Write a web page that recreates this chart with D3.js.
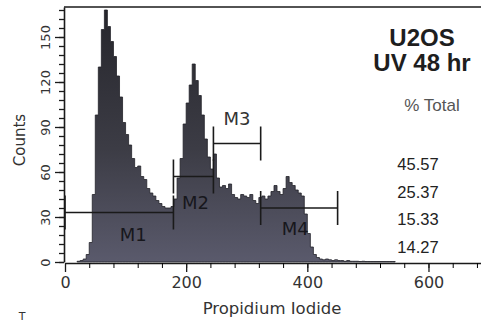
<!DOCTYPE html>
<html>
<head>
<meta charset="utf-8">
<script src="https://cdn.jsdelivr.net/npm/d3@7"></script>
<style>
  body { margin: 0; background: #fff; }
  svg { display: block; }
</style>
</head>
<body>
<script>
// DNA histogram (Propidium Iodide), counts per 5-channel bin starting at channel 20
const firstChannel = 20;
const binWidth = 5;
const counts = [
  0.5, 1, 2, 5, 13, 45, 98, 130, 155, 168,
  157, 147, 137, 124, 110, 93, 85, 78, 69, 63,
  64, 57, 55, 49, 46, 44, 41, 39, 37, 36,
  36, 37, 42, 56, 69, 92, 106, 118, 132, 121,
  111, 98, 82, 70, 62, 72, 56, 50, 51, 49,
  52, 45, 43, 42, 45, 44, 43, 45, 41, 39,
  43, 44, 42, 44, 47, 51, 47, 45, 49, 57,
  53, 51, 48, 46, 44, 32, 19, 10, 5, 3,
  2, 1.5, 2, 1.5, 1, 1.5, 1, 1, 0.5, 1,
  0.5, 0.5, 0.5, 0.3, 0.5, 0.3, 0.3, 0.3, 0.3, 0.3,
  0.3, 0.3, 0.3, 0.3, 0.3
];

// marker gates (channels)
const markerNames = ['M1', 'M2', 'M3', 'M4'];
const markerFrom = [0, 179, 245, 323];
const markerTo = [179, 245, 323, 450];
const markerLevel = [33, 57, 79, 36]; // count level where the gate bar sits

const percentTotal = ['45.57', '25.37', '15.33', '14.27'];
const titleLines = ['U2OS', 'UV 48 hr'];

const xMajor = [0, 200, 400, 600];
const yMajor = [0, 30, 60, 90, 120, 150];

const W = 481, H = 325;

const svg = d3.select('body')
  .append('svg')
  .attr('width', W)
  .attr('height', H);

const x = d3.scaleLinear().domain([0, 690]).range([65, 483]);
const y = d3.scaleLinear().domain([0, 170]).range([262, 7]);

const defs = svg.append('defs');
defs.append('clipPath').attr('id', 'plot')
  .append('rect').attr('x', 64).attr('y', 7).attr('width', W - 64).attr('height', 256);

const grad = defs.append('linearGradient')
  .attr('id', 'histFill')
  .attr('gradientUnits', 'userSpaceOnUse')
  .attr('x1', 0).attr('y1', 10).attr('x2', 0).attr('y2', 262);
grad.append('stop').attr('offset', 0).attr('stop-color', '#26262c');
grad.append('stop').attr('offset', 0.55).attr('stop-color', '#3c3c45');
grad.append('stop').attr('offset', 1).attr('stop-color', '#5a5a6c');

// histogram as steps
const bins = counts.map((c, i) => ({ ch: firstChannel + i * binWidth, c: c }));
bins.push({ ch: firstChannel + counts.length * binWidth, c: 0 });

const area = d3.area()
  .x(d => x(d.ch))
  .y0(y(0))
  .y1(d => y(d.c))
  .curve(d3.curveStepAfter);

svg.append('path')
  .datum(bins)
  .attr('clip-path', 'url(#plot)')
  .attr('d', area)
  .attr('fill', 'url(#histFill)')
  .attr('stroke', '#222228')
  .attr('stroke-width', 0.8);

// x axis: minor every 40, major with labels
svg.append('g')
  .attr('transform', `translate(0,${y(0) + 1})`)
  .call(d3.axisBottom(x).tickValues(d3.range(0, 690, 40)).tickSize(5).tickSizeOuter(0).tickFormat(''))
  .call(g => g.select('.domain').attr('stroke', '#1a1a1a').attr('stroke-width', 1.6));

svg.append('g')
  .attr('transform', `translate(0,${y(0) + 1})`)
  .call(d3.axisBottom(x).tickValues(xMajor).tickSize(9).tickSizeOuter(0).tickPadding(5))
  .call(g => g.select('.domain').remove())
  .call(g => g.selectAll('line').attr('stroke', '#1a1a1a').attr('stroke-width', 1.3))
  .call(g => g.selectAll('text')
    .attr('font-family', 'DejaVu Sans')
    .attr('font-size', 16)
    .attr('fill', '#333'));

// y axis: minor every 6, major every 30, labels rotated
svg.append('g')
  .attr('transform', 'translate(64,0)')
  .call(d3.axisLeft(y).tickValues(d3.range(0, 170, 6)).tickSize(5).tickSizeOuter(0).tickFormat(''))
  .call(g => g.select('.domain').attr('stroke', '#1a1a1a').attr('stroke-width', 1.6))
  .call(g => g.selectAll('line').attr('stroke', '#1a1a1a').attr('stroke-width', 1.3));

svg.append('g')
  .attr('transform', 'translate(64,0)')
  .call(d3.axisLeft(y).tickValues(yMajor).tickSize(9).tickSizeOuter(0))
  .call(g => g.select('.domain').remove())
  .call(g => g.selectAll('line').attr('stroke', '#1a1a1a').attr('stroke-width', 1.3))
  .call(g => g.selectAll('text')
    .attr('x', null).attr('dy', null)
    .attr('transform', 'translate(-14,0) rotate(-90)')
    .attr('text-anchor', 'middle')
    .attr('font-family', 'DejaVu Sans')
    .attr('font-size', 13)
    .attr('fill', '#333'));

// top frame line
svg.append('line')
  .attr('x1', 64).attr('x2', W)
  .attr('y1', y(170)).attr('y2', y(170))
  .attr('stroke', '#1a1a1a').attr('stroke-width', 1.6);

// axis titles
svg.append('text')
  .attr('transform', 'translate(25,140) rotate(-90)')
  .attr('text-anchor', 'middle')
  .attr('font-family', 'DejaVu Sans')
  .attr('font-size', 15)
  .attr('fill', '#333')
  .text('Counts');

svg.append('text')
  .attr('x', 272).attr('y', 314)
  .attr('text-anchor', 'middle')
  .attr('font-family', 'DejaVu Sans')
  .attr('font-size', 16.5)
  .attr('fill', '#333')
  .text('Propidium Iodide');

// marker gates
const labelDx = [14, 2, 0, -4];
const labelDy = [28, 32, -19, 27];
markerNames.forEach((name, i) => {
  const g = svg.append('g').attr('stroke', '#1a1a1a').attr('stroke-width', 1.6);
  const ly = y(markerLevel[i]);
  g.append('line')
    .attr('x1', x(markerFrom[i])).attr('x2', x(markerTo[i]))
    .attr('y1', ly).attr('y2', ly);
  [markerFrom[i], markerTo[i]].forEach(v => {
    g.append('line')
      .attr('x1', x(v)).attr('x2', x(v))
      .attr('y1', ly - 17).attr('y2', ly + 17);
  });
  svg.append('text')
    .attr('x', (x(markerFrom[i]) + x(markerTo[i])) / 2 + labelDx[i])
    .attr('y', ly + labelDy[i])
    .attr('text-anchor', 'middle')
    .attr('font-family', 'DejaVu Sans')
    .attr('font-size', 18)
    .attr('fill', i === 2 ? '#333' : '#17171c')
    .text(name);
});

// right hand annotation
svg.selectAll('.title-line')
  .data(titleLines)
  .enter()
  .append('text')
  .attr('class', 'title-line')
  .attr('x', 422)
  .attr('y', (d, i) => 46 + i * 25)
  .attr('text-anchor', 'middle')
  .attr('font-family', 'Liberation Sans')
  .attr('font-weight', 'bold')
  .attr('font-size', 24)
  .attr('fill', '#1e1e1e')
  .text(d => d);

svg.append('text')
  .attr('x', 432).attr('y', 111)
  .attr('text-anchor', 'middle')
  .attr('font-family', 'Liberation Sans')
  .attr('font-size', 17)
  .attr('fill', '#555')
  .text('% Total');

svg.selectAll('.pct')
  .data(percentTotal)
  .enter()
  .append('text')
  .attr('class', 'pct')
  .attr('x', 418)
  .attr('y', (d, i) => 170 + i * 27.5)
  .attr('text-anchor', 'middle')
  .attr('font-family', 'Liberation Sans')
  .attr('font-size', 16.5)
  .attr('fill', '#222')
  .text(d => d);

// small letter at the bottom-left edge
svg.append('text')
  .attr('x', 22).attr('y', 320)
  .attr('text-anchor', 'middle')
  .attr('font-family', 'DejaVu Sans')
  .attr('font-size', 11)
  .attr('fill', '#333')
  .text('T');
</script>
</body>
</html>
